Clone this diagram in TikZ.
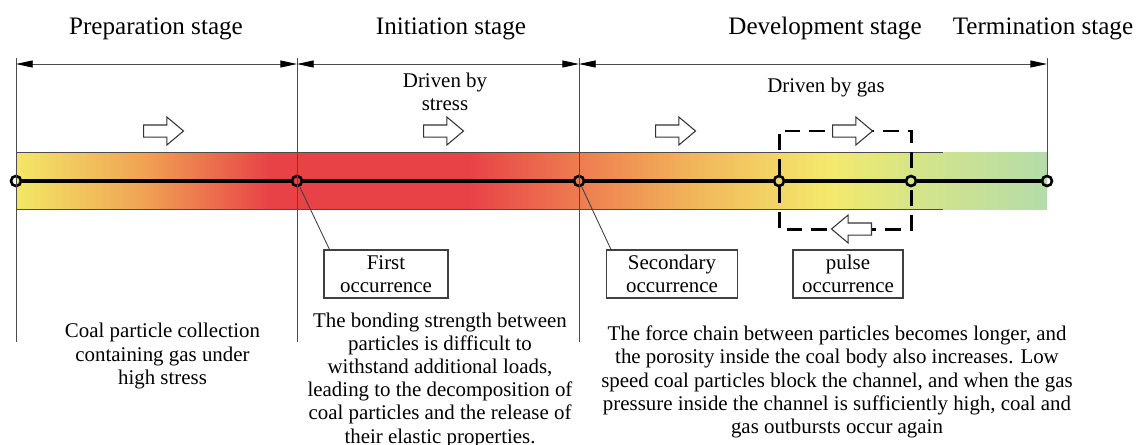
\documentclass[tikz,border=0pt]{standalone}
\usepackage{fontspec}
\setmainfont{Liberation Serif}
\usepackage{xcolor}
\usepackage{tikz}
\usetikzlibrary{positioning,arrows.meta,shapes.arrows,calc}
\definecolor{bandY}{HTML}{F2E865}
\definecolor{bandO}{HTML}{F0A555}
\definecolor{bandR}{HTML}{E84247}
\definecolor{bandO2}{HTML}{EE7D50}
\definecolor{bandOY}{HTML}{F1B45A}
\definecolor{bandY2}{HTML}{F3EA6C}
\definecolor{bandYG}{HTML}{D4E48A}
\definecolor{bandG}{HTML}{B4DCAA}
\pgfdeclarehorizontalshading{coalband}{100bp}{color(0bp)=(bandY); color(25bp)=(bandY); color(31bp)=(bandO); color(37.3bp)=(bandR); color(47bp)=(bandR); color(52.4bp)=(bandO2); color(57.7bp)=(bandOY); color(64.5bp)=(bandY2); color(68.8bp)=(bandYG); color(75bp)=(bandG); color(100bp)=(bandG)}
\newcommand{\stagefont}{\fontsize{14.3}{17}\selectfont}
\newcommand{\notefont}{\fontsize{11.9}{13.2}\selectfont}
\tikzset{
  stagept/.style={circle, draw=black, line width=1.5pt, minimum size=2mm, inner sep=0pt},
  guide/.style ={draw=black!70, line width=0.5pt},
  dim/.style   ={guide, <->},
  axisline/.style={draw=black, line width=2pt},
  pulsebox/.style={draw=black, line width=1.7pt, dash pattern=on 9pt off 5pt},
  harrow/.style={single arrow, draw=black!80, fill=white, line width=0.6pt, minimum height=8mm,
    inner xsep=0pt, inner ysep=1.1mm, single arrow head extend=1.6mm, single arrow tip angle=80,
    single arrow head indent=0pt},
  occbox/.style={draw=black!75, line width=0.6pt, minimum height=9.6mm, align=center, inner sep=0pt, font=\notefont},
  lead/.style  ={draw=black!75, line width=0.5pt},
  stagetext/.style={anchor=base, inner sep=0pt, font=\stagefont},
  note/.style  ={align=center, inner sep=0pt, font=\notefont},
  >={Triangle[length=9.5pt,width=4pt,color=black]},
}
\begin{document}
\begin{tikzpicture}[x=0.02cm, y=-0.02cm]
\useasboundingbox (0,0) rectangle (1140,444);

\shade[shading=coalband] (16,152) rectangle (1047,209);
\draw[guide] (16,152) -- (943,152) (16,209) -- (943,209);

\node[stagept] (p0) at (16,181) {};
\node[stagept] (p1) at (297,181) {};
\node[stagept] (p2) at (579,181) {};
\node[stagept] (p3) at (779,181) {};
\node[stagept] (p4) at (911,181) {};
\node[stagept] (p5) at (1047,181) {};

\foreach \x in {16,297,579}
  \draw[guide] (\x,58) -- (\x,342);
\draw[guide] (1047,58) -- (p5);

\coordinate (d0) at (16,64);
\coordinate (d1) at (297,64);
\coordinate (d2) at (579,64);
\coordinate (d3) at (1047,64);
\draw[dim] (d0) -- (d1);
\draw[dim] (d1) -- (d2);
\draw[dim] (d2) -- (d3);

\draw[axisline] (p0) -- (p1) -- (p2) -- (p3) -- (p4) -- (p5);

\coordinate (bxa) at (779,131);
\coordinate (bxb) at (911,131);
\coordinate (bxc) at (779,229);
\coordinate (bxd) at (911,229);
\draw[pulsebox] (p3) -- (bxa) -- (bxb) -- (p4);
\draw[pulsebox] (p3) -- (bxc) -- (bxd) -- (p4);

\node[harrow, anchor=tail] (mv1) at (143,131) {};
\node[harrow, anchor=tail] (mv2) at (423,131) {};
\node[harrow, anchor=tail] (mv3) at (655,131) {};
\node[harrow, anchor=tail] (mv4) at (832,131) {};
\node[harrow, anchor=tail, shape border rotate=180] (mv5) at (872,229) {};

\node[stagetext] (hprep) at (156,34) {Preparation stage};
\node[stagetext] (hinit) at (451,34) {Initiation stage};
\node[stagetext] (hdev)  at (825,34) {Development stage};
\node[stagetext] (hterm) at (1043,34) {Termination stage};

\node[note] (drvstress) at (445,91.5) {Driven by\\stress};
\node[note] (drvgas) at (826,87) {Driven by gas};

\node[occbox, minimum width=24.8mm] (first)  at (386,274) {First\\occurrence};
\node[occbox, minimum width=26.2mm] (second) at (672,274) {Secondary\\occurrence};
\node[occbox, minimum width=22mm]   (pulse)  at (848,274) {pulse\\occurrence};
\draw[lead] (p1) -- ([xshift=1.2mm]first.north west);
\draw[lead] (p2) -- ([xshift=1mm]second.north west);

\node[note] (coaltxt) at (162.5,356) {Coal particle collection\\containing gas under\\high stress};
\node[note] (bondtxt) at (440,380) {The bonding strength between\\particles is difficult to\\withstand additional loads,\\leading to the decomposition of\\coal particles and the release of\\their elastic properties.};
\node[note] (forcetxt) at (837,382) {The force chain between particles becomes longer, and\\the porosity inside the coal body also increases. Low\\speed coal particles block the channel, and when the gas\\pressure inside the channel is sufficiently high, coal and\\gas outbursts occur again};
\end{tikzpicture}
\end{document}
